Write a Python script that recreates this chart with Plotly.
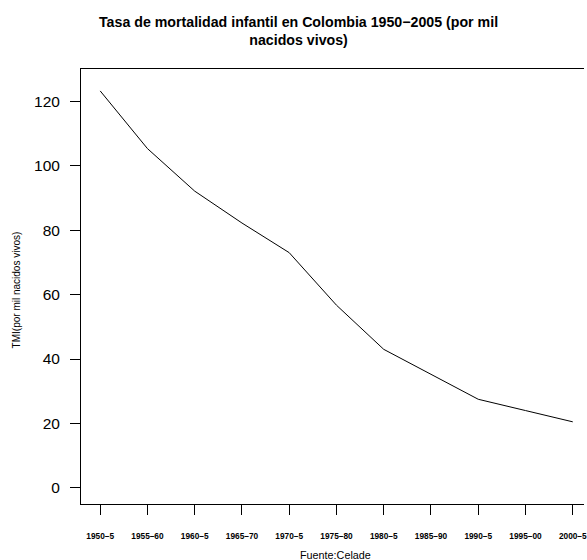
import plotly.graph_objects as go

periodos = ["1950–5", "1955–60", "1960–5", "1965–70", "1970–5", "1975–80",
            "1980–5", "1985–90", "1990–5", "1995–00", "2000–5"]
posiciones = list(range(1, 12))
tmi = [123.2, 105.3, 92.1, 82.2, 73.0, 56.7, 43.0, 35.2, 27.5, 24.0, 20.5]
y_ticks = [0, 20, 40, 60, 80, 100, 120]

W, H = 587, 560
L, R, T, B = 81, 0, 69, 56
pw, ph = W - L - R, H - T - B

def px_x(x):
    return (x - L) / pw

def px_y(y):
    return (H - B - y) / ph

FONT = "Liberation Sans, Arial, sans-serif"

fig = go.Figure()
fig.add_trace(go.Scatter(x=posiciones, y=tmi, mode="lines",
                         line=dict(color="black", width=1), showlegend=False,
                         hoverinfo="skip"))

fig.update_layout(
    width=W, height=H,
    margin=dict(l=L, r=R, t=T, b=B, pad=0),
    paper_bgcolor="white", plot_bgcolor="white",
    font=dict(family=FONT, color="black"),
    xaxis=dict(range=[0.594, 11.238], tickmode="array", tickvals=posiciones,
               ticktext=[f"<b>{p}</b>" for p in periodos],
               showgrid=False, zeroline=False, showline=True, mirror=True,
               linecolor="black", linewidth=1, ticks="outside", ticklen=10,
               tickwidth=1, tickcolor="black",
               tickfont=dict(family=FONT, size=8.3, color="black"),
               ticklabelstandoff=14, ticklabeloverflow="allow"),
    yaxis=dict(range=[-5, 130], tickmode="array", tickvals=y_ticks,
               showgrid=False, zeroline=False, showline=True, mirror=False,
               linecolor="black", linewidth=1, ticks="outside", ticklen=10,
               tickwidth=1, tickcolor="black",
               tickfont=dict(family=FONT, size=15.5, color="black"),
               ticklabelstandoff=7),
    annotations=[
        dict(text="<b>Tasa de mortalidad infantil en Colombia 1950−2005 (por mil<br>nacidos vivos)</b>",
             x=px_x(300), y=px_y(31), xref="paper", yref="paper",
             xanchor="center", yanchor="middle", showarrow=False,
             font=dict(family=FONT, size=14.2, color="black")),
        dict(text="TMI(por mil nacidos vivos)", textangle=-90,
             x=px_x(16), y=px_y(290), xref="paper", yref="paper",
             xanchor="center", yanchor="middle", showarrow=False,
             font=dict(family=FONT, size=10, color="black")),
        dict(text="Fuente:Celade",
             x=px_x(337.5), y=px_y(555), xref="paper", yref="paper",
             xanchor="center", yanchor="middle", showarrow=False,
             font=dict(family=FONT, size=10.8, color="black")),
    ],
)

fig.write_html("out.html")
